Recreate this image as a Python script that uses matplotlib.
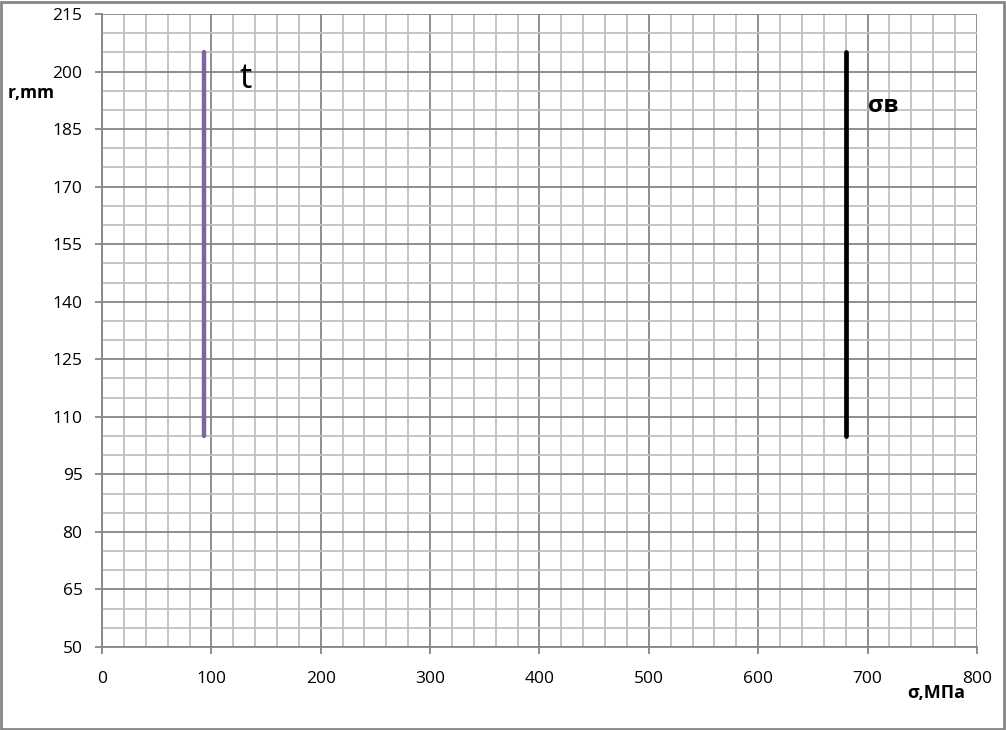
import matplotlib.pyplot as plt
import numpy as np

# data
t_x = [93, 93]
t_r = [105, 205]
sb_x = [680, 680]
sb_r = [105, 205]

x_ticks = [0, 100, 200, 300, 400, 500, 600, 700, 800]
y_ticks = [50, 65, 80, 95, 110, 125, 140, 155, 170, 185, 200, 215]

plt.rcParams['font.family'] = ['Open Sans', 'DejaVu Sans']

fig = plt.figure(figsize=(10.06, 7.30), dpi=100)
ax = fig.add_axes([102 / 1006, 1 - 647 / 730, 875 / 1006, 633 / 730])

ax.plot(t_x, t_r, color='#8064A2', linewidth=3.2, solid_capstyle='round', zorder=3)
ax.plot(sb_x, sb_r, color='black', linewidth=3.4, solid_capstyle='round', zorder=3)

ax.text(126, 198, 't', fontsize=25, color='black', ha='left', va='center')
ax.text(700, 191, 'σв', fontsize=17, fontweight='bold', color='black', ha='left', va='center')

ax.set_xlim(0, 800)
ax.set_ylim(50, 215)
ax.set_xticks(x_ticks)
ax.set_yticks(y_ticks)
ax.set_xticks(np.arange(0, 801, 20), minor=True)
ax.set_yticks(np.arange(50, 216, 5), minor=True)

ax.grid(True, which='major', color='#868686', linewidth=1.3, zorder=0)
ax.grid(True, which='minor', color='#C0C0C0', linewidth=1.3, zorder=0)
ax.set_axisbelow(True)

for side in ['top', 'right']:
    ax.spines[side].set_visible(False)
for side in ['left', 'bottom']:
    ax.spines[side].set_color('#868686')
    ax.spines[side].set_linewidth(1.3)

ax.tick_params(which='major', direction='out', length=5, width=1.3, color='#868686',
               labelsize=12.5, pad=9)
ax.tick_params(which='minor', length=0)
ax.tick_params(axis='x', pad=12)

fig.text(8 / 1006, 1 - 93 / 730, 'r,mm', fontsize=12.5, fontweight='bold', ha='left', va='center')
fig.text(936 / 1006, 1 - 693 / 730, 'σ,МПа', fontsize=13, fontweight='bold', ha='center', va='center')

# outer frame
fig.patches.append(plt.Rectangle((0.001, 0.001), 0.997, 0.996, transform=fig.transFigure,
                                 fill=False, edgecolor='#868686', linewidth=2))

fig.savefig('out.png', dpi=100)
